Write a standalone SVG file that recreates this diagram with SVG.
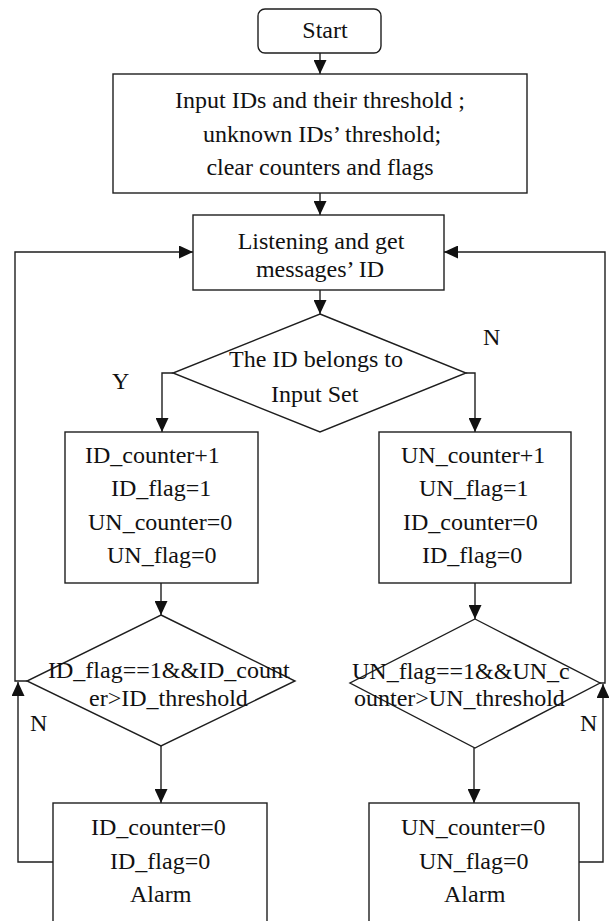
<svg xmlns="http://www.w3.org/2000/svg" width="609" height="921" viewBox="0 0 609 921">
<style>
.n{fill:#fff;stroke:#1e1e1e;stroke-width:1.4}
.c{fill:none;stroke:#1e1e1e;stroke-width:1.4}
text{font-family:'Liberation Serif','DejaVu Serif',serif;font-size:24px;fill:#111}
.m{text-anchor:middle}
</style>
<defs>
<marker id="ah" markerUnits="userSpaceOnUse" markerWidth="14" markerHeight="13" refX="14" refY="6.5" orient="auto">
<path d="M0,0 L14,6.5 L0,13 z" fill="#111"/>
</marker>
</defs>
<rect width="609" height="921" fill="#fff"/>
<g id="connectors">
<path class="c" d="M320,53 V74" marker-end="url(#ah)"/>
<path class="c" d="M320,193 V215" marker-end="url(#ah)"/>
<path class="c" d="M320,290 V314" marker-end="url(#ah)"/>
<path class="c" d="M173,373 H162 V432" marker-end="url(#ah)"/>
<path class="c" d="M466,373 H475 V432" marker-end="url(#ah)"/>
<path class="c" d="M161,583 V615" marker-end="url(#ah)"/>
<path class="c" d="M475,583 V619" marker-end="url(#ah)"/>
<path class="c" d="M161,746 V803" marker-end="url(#ah)"/>
<path class="c" d="M474,748 V803" marker-end="url(#ah)"/>
<path class="c" d="M27,681 H15 V252 H193" marker-end="url(#ah)"/>
<path class="c" d="M53,862 H18 V682" marker-end="url(#ah)"/>
<path class="c" d="M600,683 H605 V252 H444" marker-end="url(#ah)"/>
<path class="c" d="M579,862 H603 V684" marker-end="url(#ah)"/>
<text x="112" y="389">Y</text>
<text x="483" y="345">N</text>
<text x="30" y="731">N</text>
<text x="580" y="731">N</text>
</g>
<g id="start">
<rect class="n" x="258" y="9" width="123" height="44" rx="7"/>
<text class="m" x="325" y="38">Start</text>
</g>
<g id="input">
<rect class="n" x="113" y="74" width="414" height="119"/>
<text class="m" x="320" y="108">Input IDs and their threshold ;</text>
<text class="m" x="322" y="142">unknown IDs’ threshold;</text>
<text class="m" x="320" y="175">clear counters and flags</text>
</g>
<g id="listen">
<rect class="n" x="193" y="215" width="251" height="75"/>
<text class="m" x="321" y="249">Listening and get</text>
<text class="m" x="320" y="277">messages’ ID</text>
</g>
<g id="decide">
<polygon class="n" points="320,314 466,373 320,432 173,373"/>
<text x="229" y="367">The ID belongs to</text>
<text x="271" y="402">Input Set</text>
</g>
<g id="idupdate">
<rect class="n" x="65" y="432" width="193" height="151"/>
<text x="85" y="463">ID_counter+1</text>
<text x="111" y="496">ID_flag=1</text>
<text x="88" y="530">UN_counter=0</text>
<text x="107" y="563">UN_flag=0</text>
</g>
<g id="unupdate">
<rect class="n" x="379" y="432" width="192" height="151"/>
<text x="401" y="463">UN_counter+1</text>
<text x="419" y="496">UN_flag=1</text>
<text x="403" y="530">ID_counter=0</text>
<text x="422" y="563">ID_flag=0</text>
</g>
<g id="idcheck">
<polygon class="n" points="161,615 295,681 161,746 27,681"/>
<text x="48" y="678">ID_flag==1&amp;&amp;ID_count</text>
<text x="89" y="706">er&gt;ID_threshold</text>
</g>
<g id="uncheck">
<polygon class="n" points="475,619 600,683 475,748 350,683"/>
<text x="352" y="679">UN_flag==1&amp;&amp;UN_c</text>
<text x="354" y="706">ounter&gt;UN_threshold</text>
</g>
<g id="idalarm">
<rect class="n" x="53" y="803" width="214" height="130"/>
<text x="91" y="835">ID_counter=0</text>
<text x="110" y="869">ID_flag=0</text>
<text x="130" y="902">Alarm</text>
</g>
<g id="unalarm">
<rect class="n" x="369" y="803" width="210" height="130"/>
<text x="401" y="835">UN_counter=0</text>
<text x="419" y="869">UN_flag=0</text>
<text x="444" y="902">Alarm</text>
</g>
</svg>
